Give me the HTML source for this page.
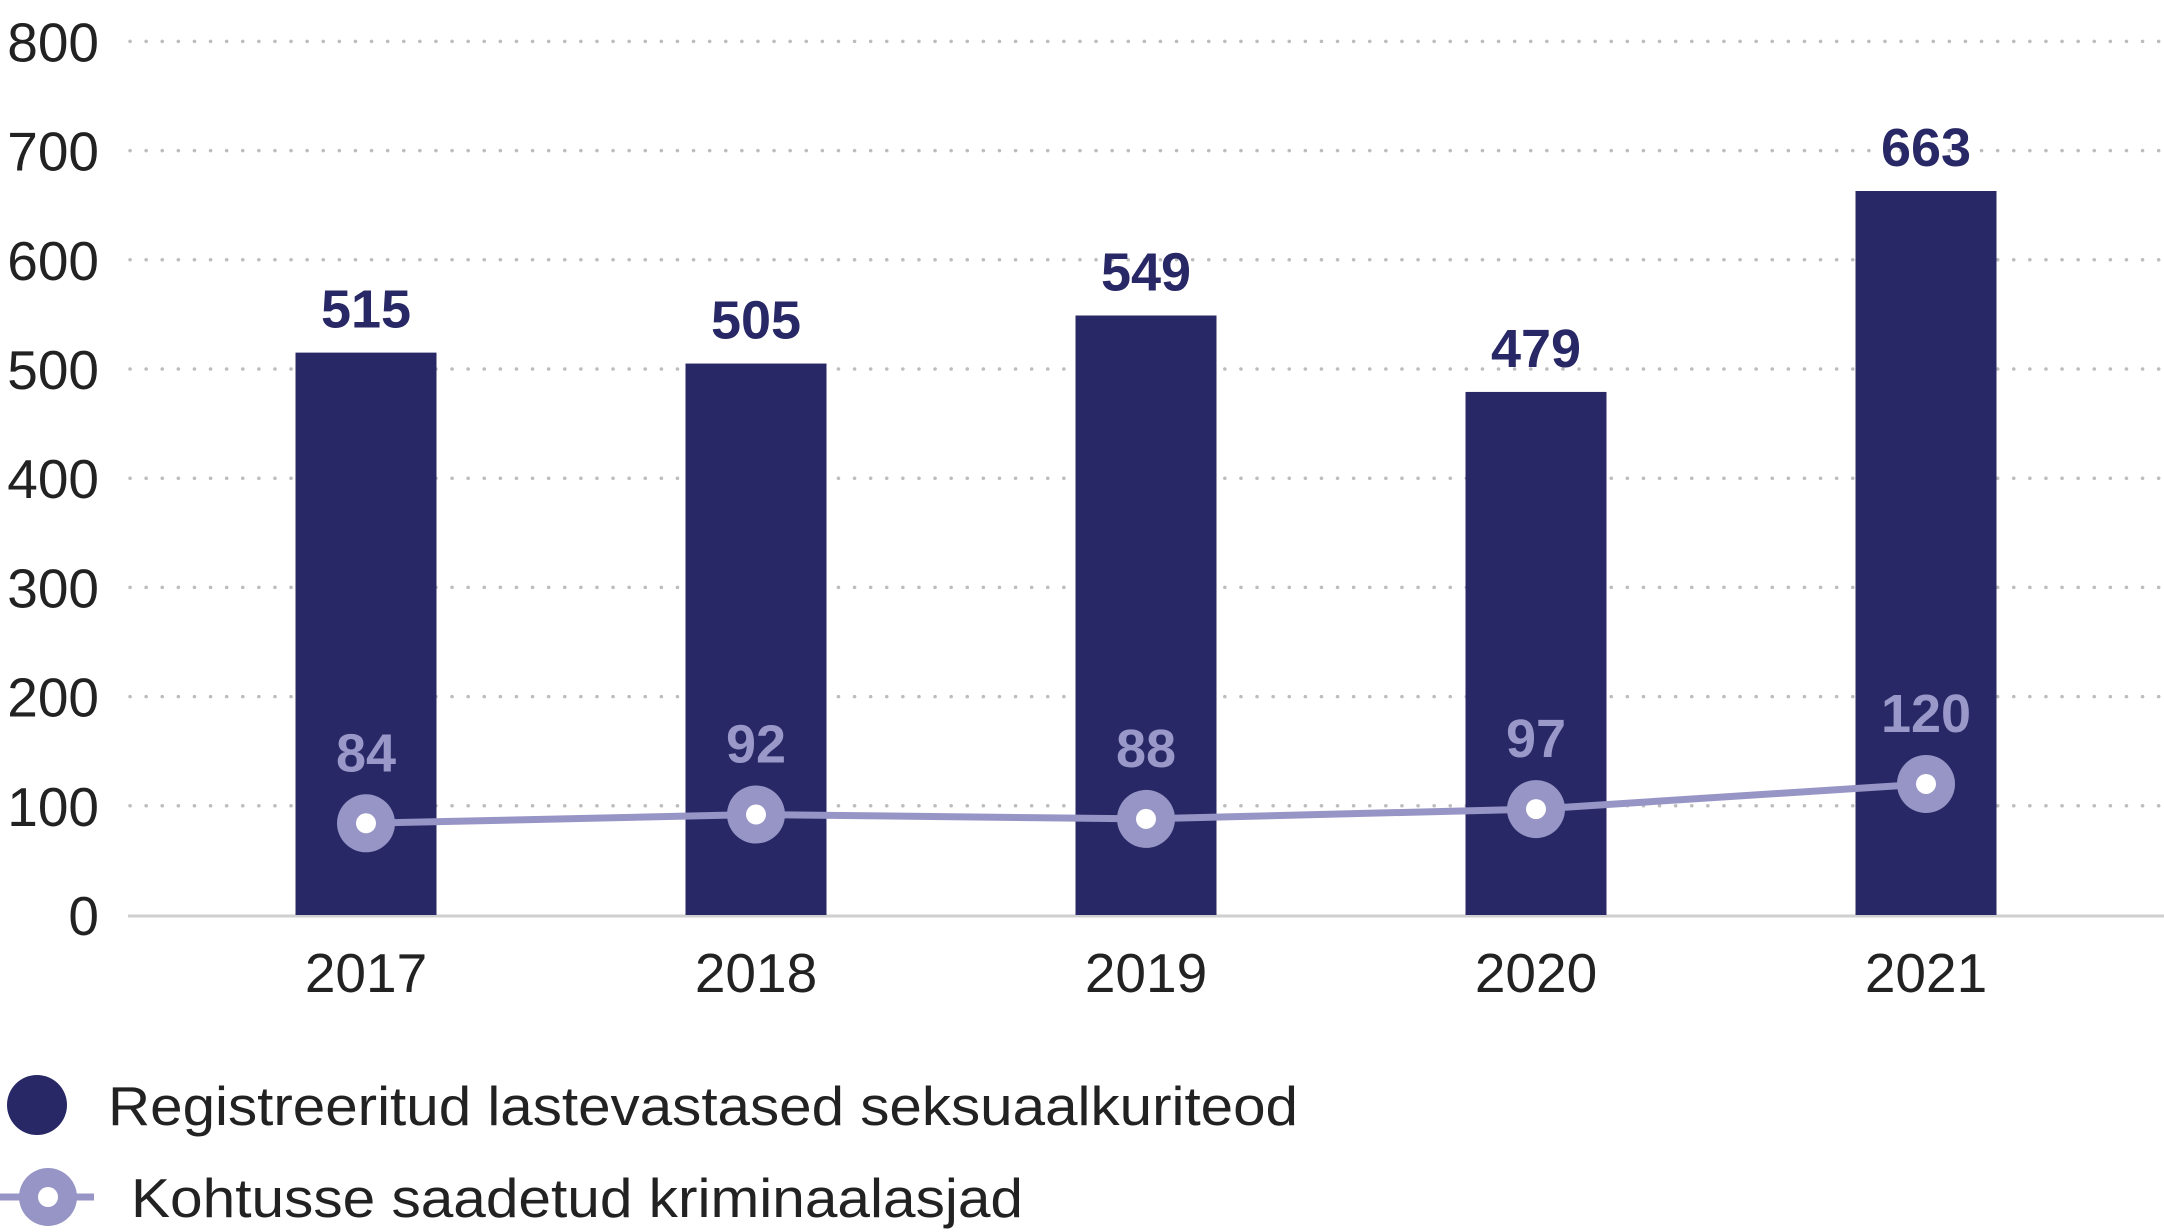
<!DOCTYPE html>
<html><head><meta charset="utf-8"><style>
html,body{margin:0;padding:0;background:#fff;}
svg{display:block;font-family:"Liberation Sans","DejaVu Sans",sans-serif;}
</style></head><body>
<svg id="chart" width="2164" height="1232" viewBox="0 0 2164 1232" xmlns="http://www.w3.org/2000/svg">
<g id="grid"></g>
<g id="bars"></g>
<g id="line"></g>
<g id="legend">
  <circle cx="37" cy="1105" r="30" fill="#282866"/>
  <text x="108" y="1125" font-size="55" fill="#222" textLength="1190" lengthAdjust="spacingAndGlyphs">Registreeritud lastevastased seksuaalkuriteod</text>
  <line x1="0" y1="1197" x2="94" y2="1197" stroke="#9795c6" stroke-width="7"/>
  <circle cx="48" cy="1197" r="29" fill="#9795c6"/>
  <circle cx="48" cy="1197" r="10" fill="#fff"/>
  <text x="131" y="1217" font-size="55" fill="#222" textLength="892" lengthAdjust="spacingAndGlyphs">Kohtusse saadetud kriminaalasjad</text>
</g>
</svg>
<script>
const categories = ["2017","2018","2019","2020","2021"];
const barValues = [515,505,549,479,663];
const lineValues = [84,92,88,97,120];
const yTicks = [0,100,200,300,400,500,600,700,800];

const NS="http://www.w3.org/2000/svg";
const plotL=128, plotR=2164, y0=915, y800=41.4;
const yScale=v=>y0-(v/800)*(y0-y800);
const step=390, firstX=366;
const xScale=i=>firstX+i*step;
const barW=141;
function mk(tag,attrs,parent,txt){const e=document.createElementNS(NS,tag);for(const k in attrs)e.setAttribute(k,attrs[k]);if(txt!==undefined)e.textContent=txt;parent.appendChild(e);return e;}
const grid=document.getElementById('grid');
yTicks.forEach(t=>{
  const y=yScale(t);
  if(t>0){
    const l=mk('line',{x1:plotL+2,x2:plotR,y1:y,y2:y,stroke:'#bdbdbd','stroke-width':3.5,'stroke-dasharray':'0.1 16','stroke-linecap':'round'},grid);
    
    
  }
  const tx=mk('text',{x:99,y:y+20,'text-anchor':'end','font-size':55,fill:'#222'},grid,String(t));
  
  
});
const axis=mk('line',{x1:plotL,x2:plotR,y1:y0+1,y2:y0+1,stroke:'#cfcfcf','stroke-width':3},grid);


const bars=document.getElementById('bars');
categories.forEach((c,i)=>{
  const x=xScale(i), y=yScale(barValues[i]);
  const r=mk('rect',{x:x-barW/2,y:y,width:barW,height:y0-y,fill:'#282866'},bars);
  
  
  const v=mk('text',{x:x,y:y-25,'text-anchor':'middle','font-size':54,'font-weight':'bold',fill:'#282866'},bars,String(barValues[i]));
  
  
  const xl=mk('text',{x:x,y:992,'text-anchor':'middle','font-size':55,fill:'#222'},bars,c);
  
  
});
const lg=document.getElementById('line');
const pts=lineValues.map((v,i)=>xScale(i)+','+yScale(v)).join(' ');
const pl=mk('polyline',{points:pts,fill:'none',stroke:'#9795c6','stroke-width':7},lg);


lineValues.forEach((v,i)=>{
  const x=xScale(i), y=yScale(v);
  const c=mk('circle',{cx:x,cy:y,r:29,fill:'#9795c6'},lg);
  
  
  const ci=mk('circle',{cx:x,cy:y,r:10,fill:'#fff'},lg);
  
  
  const t=mk('text',{x:x,y:y-52,'text-anchor':'middle','font-size':54,'font-weight':'bold',fill:'#9a98c8'},lg,String(v));
  
  
});
</script>
</body></html>
